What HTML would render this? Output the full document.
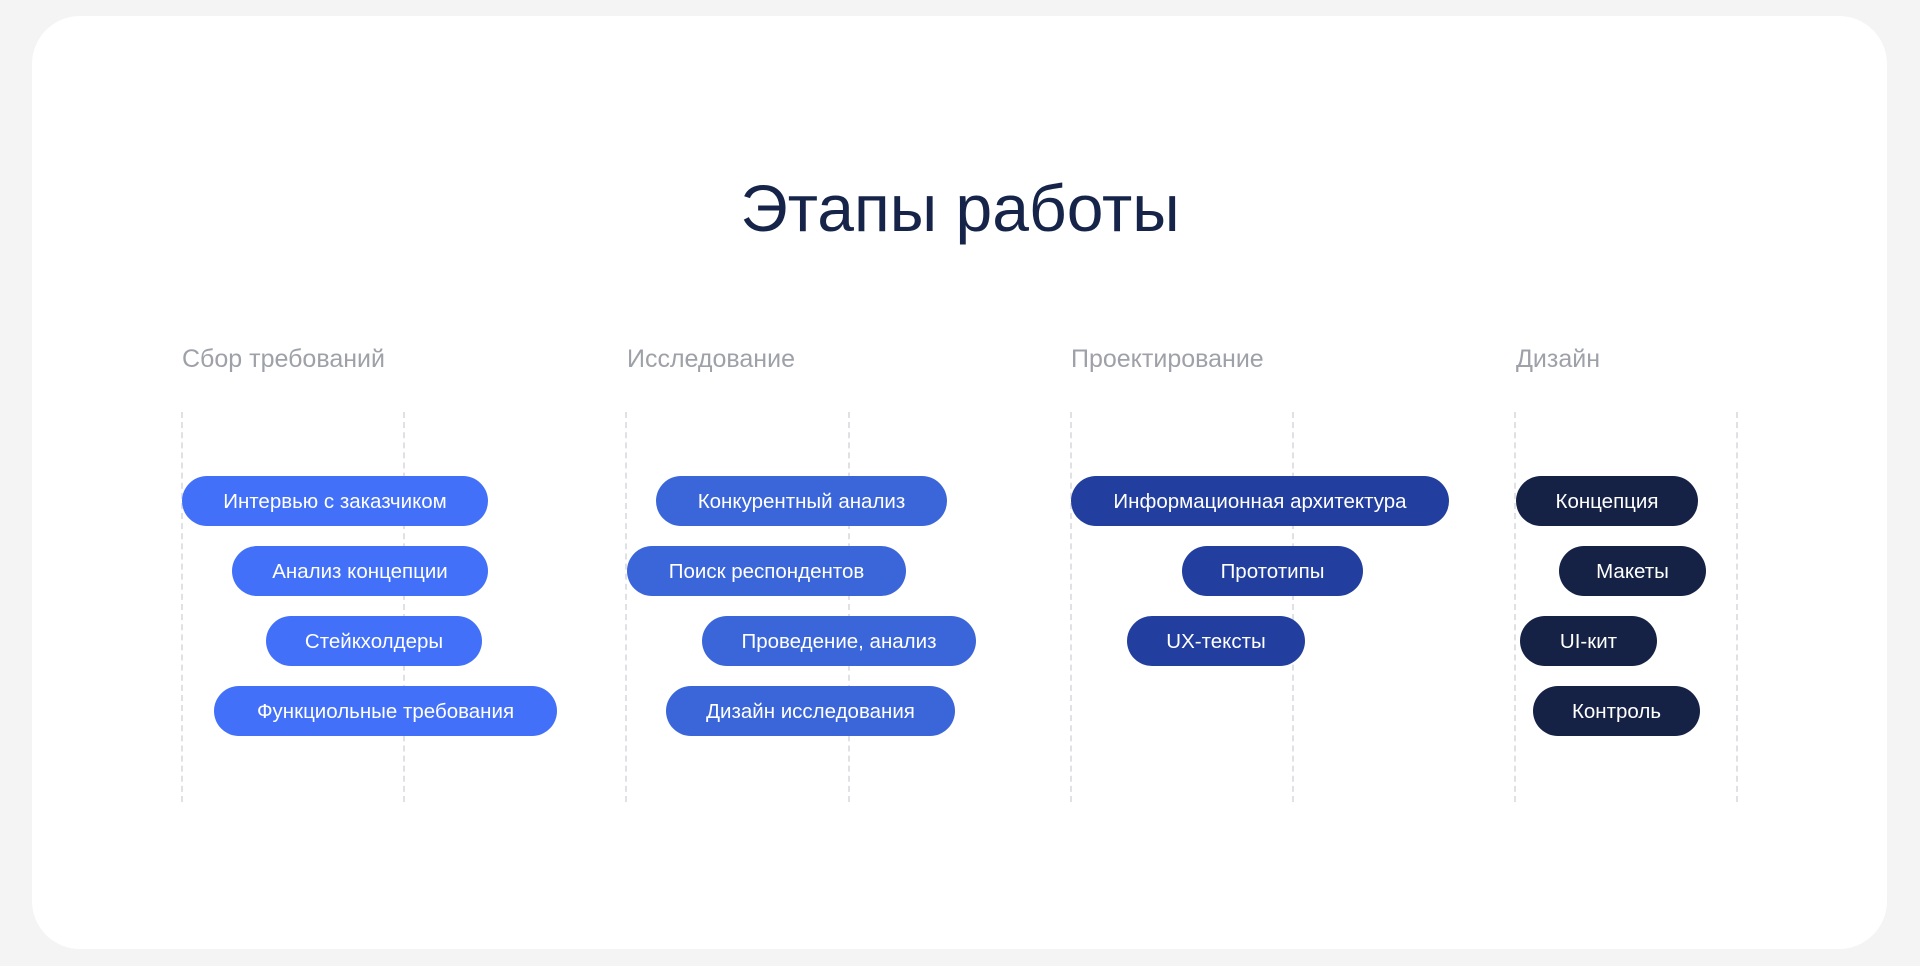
<!DOCTYPE html>
<html><head><meta charset="utf-8"><style>
html,body{margin:0;padding:0;}
body{width:1920px;height:966px;background:#f4f4f4;position:relative;overflow:hidden;font-family:"Liberation Sans","DejaVu Sans",sans-serif;}
.card{position:absolute;left:32px;top:16px;width:1855px;height:933px;background:#fff;border-radius:48px;}
h1{position:absolute;left:0;width:1920px;top:170px;margin:0;text-align:center;font-weight:400;font-size:66px;line-height:76px;color:#16244a;}
.lab{position:absolute;top:345px;font-size:25px;color:#9ea1a8;}
.dl{position:absolute;top:412px;height:390px;border-left:2px dashed #e0e1e5;}
.p{position:absolute;height:50px;border-radius:25px;color:#fff;font-size:20.5px;line-height:52px;text-align:center;white-space:nowrap;}
.c1{background:#4270f8}.c2{background:#3b66d9}.c3{background:#223e9e}.c4{background:#152245}
</style></head><body>
<div class="card"></div>
<h1>Этапы работы</h1>
<div class="lab" style="left:182px">Сбор требований</div>
<div class="lab" style="left:627px">Исследование</div>
<div class="lab" style="left:1071px">Проектирование</div>
<div class="lab" style="left:1516px">Дизайн</div>
<div class="dl" style="left:181px"></div><div class="dl" style="left:403px"></div>
<div class="dl" style="left:625px"></div><div class="dl" style="left:848px"></div>
<div class="dl" style="left:1070px"></div><div class="dl" style="left:1292px"></div>
<div class="dl" style="left:1514px"></div><div class="dl" style="left:1736px"></div>

<div class="p c1" style="left:182px;top:476px;width:306px">Интервью с заказчиком</div>
<div class="p c1" style="left:232px;top:546px;width:256px">Анализ концепции</div>
<div class="p c1" style="left:266px;top:616px;width:216px">Стейкхолдеры</div>
<div class="p c1" style="left:214px;top:686px;width:343px">Функциольные требования</div>

<div class="p c2" style="left:656px;top:476px;width:291px">Конкурентный анализ</div>
<div class="p c2" style="left:627px;top:546px;width:279px">Поиск респондентов</div>
<div class="p c2" style="left:702px;top:616px;width:274px">Проведение, анализ</div>
<div class="p c2" style="left:666px;top:686px;width:289px">Дизайн исследования</div>

<div class="p c3" style="left:1071px;top:476px;width:378px">Информационная архитектура</div>
<div class="p c3" style="left:1182px;top:546px;width:181px">Прототипы</div>
<div class="p c3" style="left:1127px;top:616px;width:178px">UX-тексты</div>

<div class="p c4" style="left:1516px;top:476px;width:182px">Концепция</div>
<div class="p c4" style="left:1559px;top:546px;width:147px">Макеты</div>
<div class="p c4" style="left:1520px;top:616px;width:137px">UI-кит</div>
<div class="p c4" style="left:1533px;top:686px;width:167px">Контроль</div>
</body></html>
